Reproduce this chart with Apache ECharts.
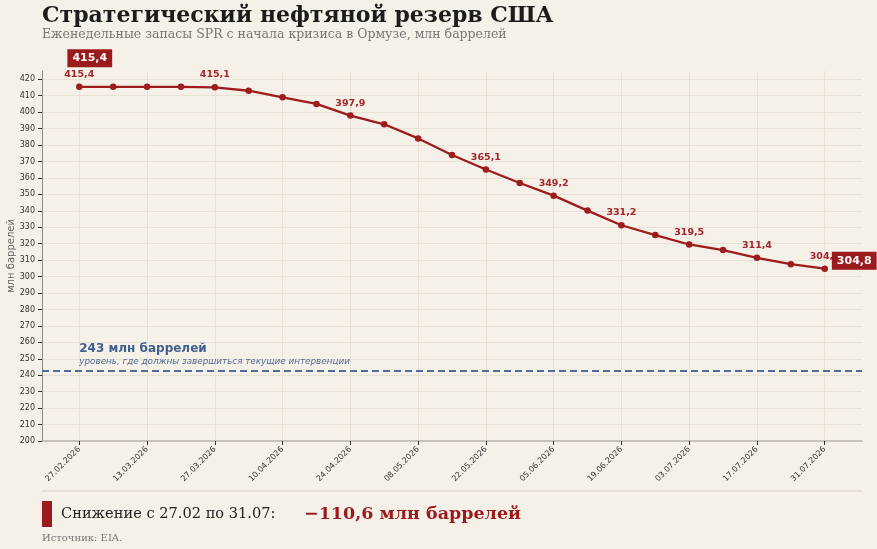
<!DOCTYPE html>
<html>
<head>
<meta charset="utf-8">
<script src="https://cdn.jsdelivr.net/npm/echarts@6/dist/echarts.min.js"></script>
<style>
html,body{margin:0;padding:0;background:#f6f1e8;}
#c{width:877px;height:549px;}
</style>
</head>
<body>
<div id="c"></div>
<script>
// ---- data ----
const dates = ['27.02.2026','06.03.2026','13.03.2026','20.03.2026','27.03.2026','03.04.2026','10.04.2026','17.04.2026','24.04.2026','01.05.2026','08.05.2026','15.05.2026','22.05.2026','29.05.2026','05.06.2026','12.06.2026','19.06.2026','26.06.2026','03.07.2026','10.07.2026','17.07.2026','24.07.2026','31.07.2026'];
const spr = [415.4,415.4,415.4,415.4,415.1,413.0,409.0,405.0,397.9,392.6,384.0,373.9,365.1,356.9,349.2,340.1,331.2,325.2,319.5,316.1,311.4,307.5,304.8];
const labeledIdx = [0,4,8,12,14,16,18,20,22];
const xTickIdx = [0,2,4,6,8,10,12,14,16,18,20,22];
const yTicks = [200,210,220,230,240,250,260,270,280,290,300,310,320,330,340,350,360,370,380,390,400,410,420];
const targetLevel = 243;
const titleText = 'Стратегический нефтяной резерв США';
const subtitleText = 'Еженедельные запасы SPR с начала кризиса в Ормузе, млн баррелей';
const targetTitle = '243 млн баррелей';
const targetSub = 'уровень, где должны завершиться текущие интервенции';
const sourceText = 'Источник: EIA.';

const fmt = v => v.toFixed(1).replace('.', ',');
const RED = '#9e1b1e';
const BOX = '#9b1a1c';
const BLUE = '#3f5f8e';

const chart = echarts.init(document.getElementById('c'));
const lineData = spr.map((v, i) => ({
  value: [i, v],
  label: { show: labeledIdx.indexOf(i) >= 0 }
}));
const first = spr[0], last = spr[spr.length - 1];
const drop = first - last;
const shortDate = s => s.slice(0, 5);

chart.setOption({
  backgroundColor: '#f6f1e8',
  animation: false,
  grid: { left: 42, right: 15, top: 71, bottom: 108, containLabel: false, outerBoundsMode: 'none' },
  xAxis: {
    type: 'value',
    min: -1.1, max: 23.1,
    axisLine: { show: true, onZero: false, lineStyle: { color: '#b9b4aa', width: 1.5 } },
    axisTick: { show: true, customValues: xTickIdx, length: 4, lineStyle: { color: '#333' } },
    axisLabel: {
      customValues: xTickIdx,
      formatter: v => dates[Math.round(v)] || '',
      rotate: 45, fontSize: 8, color: '#333', margin: 7,
      fontFamily: 'DejaVu Sans'
    },
    splitLine: { show: true, lineStyle: { color: '#e8e2d5', width: 1 } }
  },
  yAxis: {
    type: 'value',
    min: 200, max: 425,
    name: 'млн баррелей',
    nameLocation: 'middle',
    nameGap: 26,
    nameMoveOverlap: false,
    nameTextStyle: { fontSize: 10, color: '#666', fontFamily: 'DejaVu Sans' },
    axisLine: { show: true, onZero: false, lineStyle: { color: '#8a8a8a', width: 1 } },
    axisTick: { show: true, customValues: yTicks, length: 4, lineStyle: { color: '#333' } },
    axisLabel: { customValues: yTicks, fontSize: 8, color: '#333', margin: 7, fontFamily: 'DejaVu Sans' },
    splitLine: { show: true, lineStyle: { color: '#e8e2d5', width: 1 } }
  },
  series: [
    {
      type: 'line',
      z: 3,
      data: lineData,
      symbol: 'circle',
      symbolSize: 6.5,
      itemStyle: { color: RED },
      lineStyle: { color: RED, width: 2.3 },
      label: {
        position: 'top', distance: 4,
        formatter: p => fmt(p.value[1]),
        fontSize: 9.5, fontWeight: 'bold', color: '#a3262a',
        fontFamily: 'DejaVu Sans'
      },
      markLine: {
        silent: true,
        symbol: ['none', 'none'],
        label: { show: false },
        lineStyle: { color: '#4f6d96', type: [7, 4], width: 1.8 },
        data: [{ yAxis: targetLevel }]
      }
    },
    {
      type: 'scatter',
      z: 5,
      symbolSize: 0,
      itemStyle: { opacity: 1 },
      data: [
        { value: [0, first], label: { position: [10.5, -28.5] } },
        { value: [spr.length - 1, last], label: { position: [29.5, -8] } }
      ],
      label: {
        show: true,
        formatter: p => fmt(p.value[1]),
        align: 'center', verticalAlign: 'middle',
        backgroundColor: BOX,
        color: '#fff', fontSize: 11, fontWeight: 'bold',
        fontFamily: 'DejaVu Sans',
        padding: [4, 5, 3, 5]
      }
    },
    {
      type: 'scatter',
      z: 4,
      symbolSize: 0,
      itemStyle: { opacity: 1 },
      data: [[0, targetLevel]],
      label: {
        show: true,
        position: [0, -3],
        align: 'left', verticalAlign: 'bottom',
        formatter: '{a|' + targetTitle + '}\n{b|' + targetSub + '}',
        rich: {
          a: { fontSize: 12, fontWeight: 'bold', color: BLUE, fontFamily: 'DejaVu Sans', lineHeight: 15 },
          b: { fontSize: 8.8, fontStyle: 'italic', color: '#4f6b93', fontFamily: 'DejaVu Sans', lineHeight: 11 }
        }
      }
    }
  ],
  graphic: [
    { type: 'text', left: 42, top: 5, style: { text: titleText, font: 'bold 22px "DejaVu Serif"', fill: '#1c1c1c' } },
    { type: 'text', left: 42, top: 28, style: { text: subtitleText, font: '12.5px "DejaVu Serif"', fill: '#777' } },
    { type: 'line', shape: { x1: 42, y1: 491, x2: 862, y2: 491 }, style: { stroke: '#d3cdc1', lineWidth: 1.2 } },
    { type: 'rect', shape: { x: 42, y: 501, width: 10, height: 26 }, style: { fill: BOX } },
    { type: 'text', x: 61, y: 514, style: { text: 'Снижение с ' + shortDate(dates[0]) + ' по ' + shortDate(dates[dates.length - 1]) + ':', font: '14.6px "DejaVu Serif"', fill: '#222', verticalAlign: 'middle' } },
    { type: 'text', x: 304, y: 514, style: { text: '\u2212' + fmt(drop) + ' млн баррелей', font: 'bold 17.5px "DejaVu Serif"', fill: BOX, verticalAlign: 'middle' } },
    { type: 'text', x: 42, y: 538, style: { text: sourceText, font: '10px "DejaVu Serif"', fill: '#777', verticalAlign: 'middle' } }
  ]
});
</script>
</body>
</html>
